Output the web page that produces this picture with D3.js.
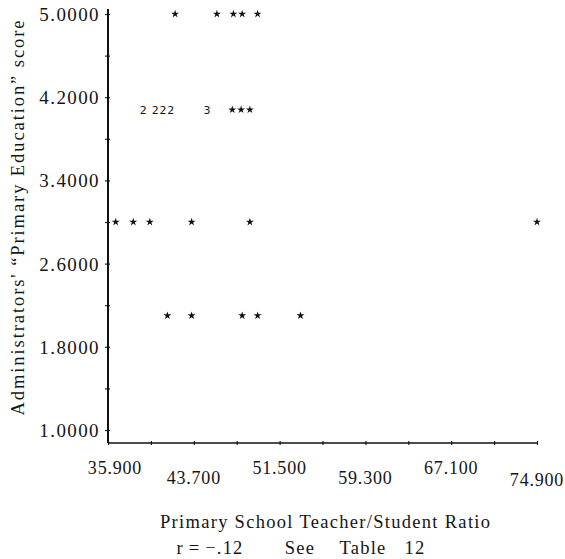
<!DOCTYPE html>
<html>
<head>
<meta charset="utf-8">
<script src="https://cdn.jsdelivr.net/npm/d3@7"></script>
<style>
  html, body { margin: 0; padding: 0; background: #fff; }
  svg { display: block; }
  text { font-family: "Liberation Serif", "DejaVu Serif", serif; fill: #151515; }
</style>
</head>
<body>
<script>
// Scatter of administrators' "Primary Education" score against the
// primary school teacher/student ratio, line-printer style.

// Score rows (y) and the ratio positions (x) plotted on each row.
const row500 = [42.0, 45.8, 47.3, 48.1, 49.5];
const row410 = [39.1, 40.2, 40.9, 41.6, 44.9, 47.2, 48.0, 48.8];
const row410Counts = [2, 2, 2, 2, 3, 1, 1, 1];
const row300 = [36.6, 38.2, 39.7, 43.5, 48.8, 74.9];
const row210 = [41.3, 43.5, 48.1, 49.5, 53.4];

// Axis ticks and labels
const xTickValues = [35.9, 39.8, 43.7, 47.6, 51.5, 55.4, 59.3, 63.2, 67.1, 71.0, 74.9];
const xLabelValues = [35.9, 43.7, 51.5, 59.3, 67.1, 74.9];
const xLabels = ["35.900", "43.700", "51.500", "59.300", "67.100", "74.900"];
const yTickValues = [1.0, 1.4, 1.8, 2.2, 2.6, 3.0, 3.4, 3.8, 4.2, 4.6, 5.0];
const yLabelValues = [1.0, 1.8, 2.6, 3.4, 4.2, 5.0];
const yLabels = ["1.0000", "1.8000", "2.6000", "3.4000", "4.2000", "5.0000"];

const xTitle = "Primary School Teacher/Student Ratio";
const yTitle = "Administrators' \u201CPrimary Education\u201D score";
const noteParts = ["r\u2009=\u2009\u2212.12", "See", "Table", "12"];

// Build point list from the rows
const points = [];
row500.forEach(v => points.push({ x: v, y: 5.0, n: 1 }));
row410.forEach((v, i) => points.push({ x: v, y: 4.08, n: row410Counts[i] }));
row300.forEach(v => points.push({ x: v, y: 3.0, n: 1 }));
row210.forEach(v => points.push({ x: v, y: 2.1, n: 1 }));

const W = 565, H = 559;
const svg = d3.select("body").append("svg")
  .attr("width", W).attr("height", H);

const x = d3.scaleLinear().domain([35.9, 74.9]).range([108, 537]);
const y = d3.scaleLinear().domain([1, 5]).range([430, 14]);
const axisY = 443;

// Y axis: line from top down to the x axis, ticks crossing it
const gy = svg.append("g").attr("transform", `translate(${x(35.9)},0)`)
  .call(d3.axisLeft(y).tickValues(yTickValues).tickFormat("").tickSizeOuter(0));
gy.select(".domain").remove();
gy.selectAll(".tick line").attr("x1", -3).attr("x2", 2).attr("stroke", "#222").attr("stroke-width", 1.2);
gy.append("line").attr("x1", 0).attr("x2", 0).attr("y1", y(5) - 5).attr("y2", axisY)
  .attr("stroke", "#111").attr("stroke-width", 2);

// X axis
const gx = svg.append("g").attr("transform", `translate(0,${axisY})`)
  .call(d3.axisBottom(x).tickValues(xTickValues).tickFormat("").tickSizeOuter(0));
gx.select(".domain").remove();
gx.selectAll(".tick line").attr("y1", -2).attr("y2", 2).attr("stroke", "#222").attr("stroke-width", 1.2);
gx.append("line").attr("x1", x(35.9)).attr("x2", x(74.9)).attr("y1", 0).attr("y2", 0)
  .attr("stroke", "#111").attr("stroke-width", 1.6);

// Y tick labels
svg.append("g").selectAll("text").data(yLabelValues).join("text")
  .attr("x", 100).attr("y", d => y(d) + 7)
  .attr("text-anchor", "end")
  .attr("font-size", 19).attr("letter-spacing", 1.4)
  .text((d, i) => yLabels[i]);

// X tick labels, staggered on two lines
svg.append("g").selectAll("text").data(xLabelValues).join("text")
  .attr("x", (d, i) => x(d) + (i === 0 ? 7 : 0))
  .attr("y", (d, i) => (i % 2 === 0 ? 474 : 484) + (i === 5 ? 2 : 0))
  .attr("text-anchor", "middle")
  .attr("font-size", 18).attr("letter-spacing", 0.8)
  .text((d, i) => xLabels[i]);

// Axis titles
svg.append("text")
  .attr("transform", "translate(24,218) rotate(-90)")
  .attr("text-anchor", "middle")
  .attr("font-size", 18.5)
  .attr("textLength", 395).attr("lengthAdjust", "spacing")
  .text(yTitle);

svg.append("text")
  .attr("x", 325).attr("y", 528)
  .attr("text-anchor", "middle")
  .attr("font-size", 18.5)
  .attr("textLength", 330).attr("lengthAdjust", "spacing")
  .text(xTitle);

const noteX = [210, 300, 363, 415];
svg.append("g").selectAll("text").data(noteParts).join("text")
  .attr("x", (d, i) => noteX[i]).attr("y", 554)
  .attr("text-anchor", "middle")
  .attr("font-size", 18.5).attr("letter-spacing", 1.2)
  .text(d => d);

// Points: single cases as stars, coincident cases as their count
const star = d3.symbol().type(d3.symbolStar).size(20);
svg.append("g").selectAll("path").data(points.filter(p => p.n === 1)).join("path")
  .attr("transform", p => `translate(${x(p.x)},${y(p.y)})`)
  .attr("d", star)
  .attr("fill", "#111");

svg.append("g").selectAll("text").data(points.filter(p => p.n > 1)).join("text")
  .attr("x", p => x(p.x)).attr("y", p => y(p.y) + 4)
  .attr("text-anchor", "middle")
  .style("font-family", "'DejaVu Sans', sans-serif")
  .attr("font-size", 11)
  .attr("fill", "#333")
  .text(p => p.n);
</script>
</body>
</html>
